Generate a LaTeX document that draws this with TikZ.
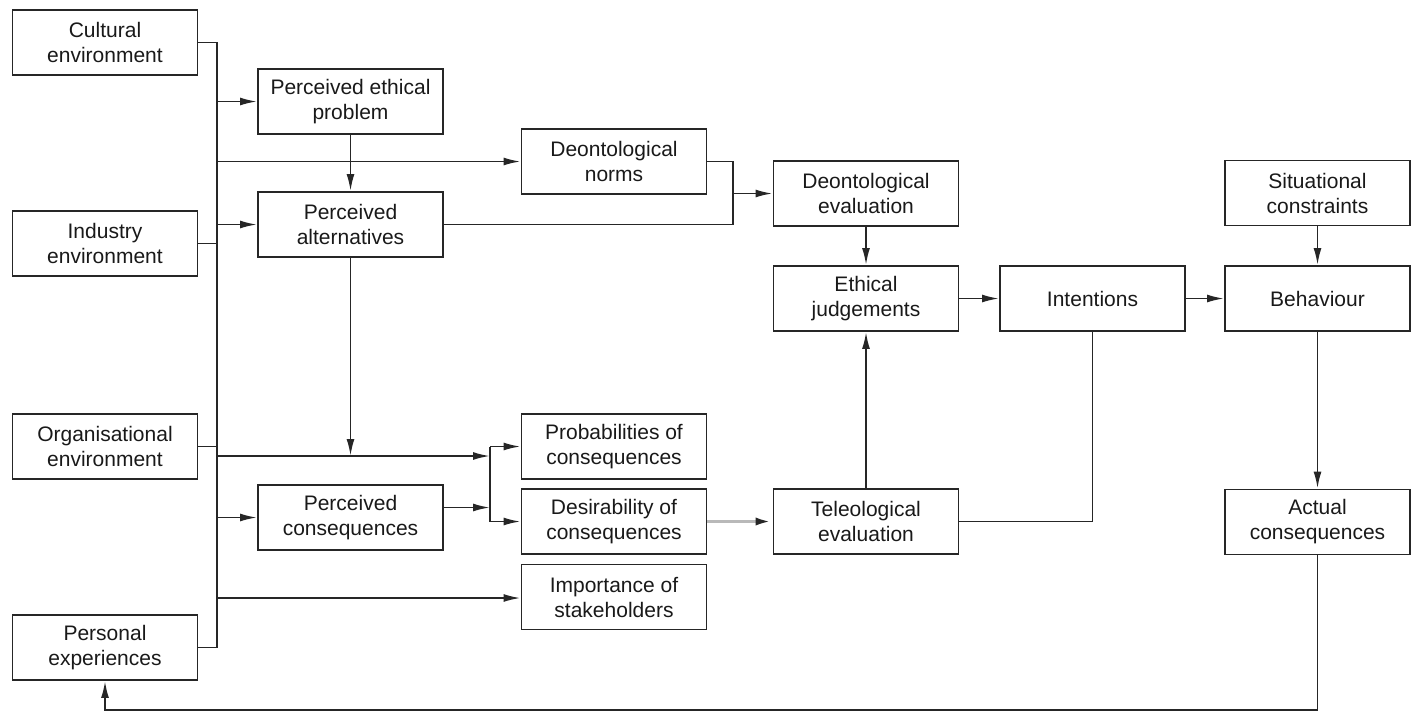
\documentclass[tikz,border=0pt]{standalone}
\usepackage{fontspec}
\setmainfont{Liberation Sans}
\usetikzlibrary{arrows.meta}
\begin{document}
\begin{tikzpicture}[x=0.5pt,y=-0.5pt,
 box/.style={draw=black!85, line width=0.95pt, minimum width=92.5pt, minimum height=32.5pt,
   align=center, inner sep=0pt, font=\fontsize{10.5pt}{12.5pt}\selectfont, text=black!90},
 con/.style={draw=black!85, line width=0.95pt},
 arr/.style={con, -{Latex[length=8.5pt,width=4pt]}},
 grayarr/.style={draw=gray!55, line width=1.6pt, -{Latex[color=black!85,length=8.5pt,width=4pt]}},
]
\useasboundingbox (0,0) rectangle (1413,713);
% left column
\node[box] (CE)  at (105,42.5)  {Cultural\\environment};
\node[box] (IE)  at (105,243.5) {Industry\\environment};
\node[box] (OE)  at (105,446.5) {Organisational\\environment};
\node[box] (PEx) at (105,647.5) {Personal\\experiences};
% second column
\node[box] (PEP) at (350.5,101.5) {Perceived ethical\\problem};
\node[box] (PA)  at (350.5,224.5) {Perceived\\alternatives};
\node[box] (PC)  at (350.5,517.5) {Perceived\\consequences};
% third column
\node[box] (DN)   at (614,161.5) {Deontological\\norms};
\node[box] (Prob) at (614,446.5) {Probabilities of\\consequences};
\node[box] (Des)  at (614,521.5) {Desirability of\\consequences};
\node[box] (Imp)  at (614,597)   {Importance of\\stakeholders};
% fourth column
\node[box] (DE) at (866,193.5) {Deontological\\evaluation};
\node[box] (EJ) at (866,298.5) {Ethical\\judgements};
\node[box] (TE) at (866,521.5) {Teleological\\evaluation};
% right
\node[box] (Int) at (1092.5,298.5) {Intentions};
\node[box] (Beh) at (1317.5,298.5) {Behaviour};
\node[box] (SC)  at (1317.5,193)   {Situational\\constraints};
\node[box] (AC)  at (1317.5,522)   {Actual\\consequences};
% helper coordinates
\coordinate (bus) at (217,0);
\coordinate (junc) at (490,0);
\coordinate (dj) at (733,0);
\coordinate (h1) at (350.5,456);
\coordinate (h2) at (0,598);
\coordinate (fb) at (0,710);
\coordinate (pce) at ([yshift=5pt]PC.east);
% bus
\draw[con] (CE.east) -- (CE.east -| bus) |- (PEx.east);
\draw[con] (IE.east) -- (IE.east -| bus);
\draw[con] (OE.east) -- (OE.east -| bus);
\draw[arr] (bus |- PEP.west) -- (PEP.west);
\draw[arr] (bus |- PA.west) -- (PA.west);
\draw[arr] (bus |- PC.west) -- (PC.west);
\draw[arr] (bus |- DN.west) -- (DN.west);
\draw[arr] (bus |- h2) -- (Imp.west |- h2);
\draw[arr] (bus |- h1) -- (junc |- h1);
% column 2 verticals
\draw[arr] (PEP.south) -- (PA.north);
\draw[arr] (PA.south) -- (h1);
% junction
\draw[arr] (pce) -- (junc |- pce);
\draw[con] (junc |- Prob.west) -- (junc |- Des.west);
\draw[arr] (junc |- Prob.west) -- (Prob.west);
\draw[arr] (junc |- Des.west) -- (Des.west);
% deontological
\draw[con] (DN.east) -| (dj |- PA.east) -- (PA.east);
\draw[arr] (dj |- DE.west) -- (DE.west);
\draw[arr] (DE.south) -- (EJ.north);
\draw[arr] (TE.north) -- (EJ.south);
\draw[grayarr] (Des.east) -- (TE.west);
% right part
\draw[arr] (EJ.east) -- (Int.west);
\draw[arr] (Int.east) -- (Beh.west);
\draw[arr] (SC.south) -- (Beh.north);
\draw[con] (Int.south) |- (TE.east);
\draw[arr] (Beh.south) -- (AC.north);
\draw[arr] (AC.south) -- (AC.south |- fb) -| (PEx.south);
\end{tikzpicture}
\end{document}
